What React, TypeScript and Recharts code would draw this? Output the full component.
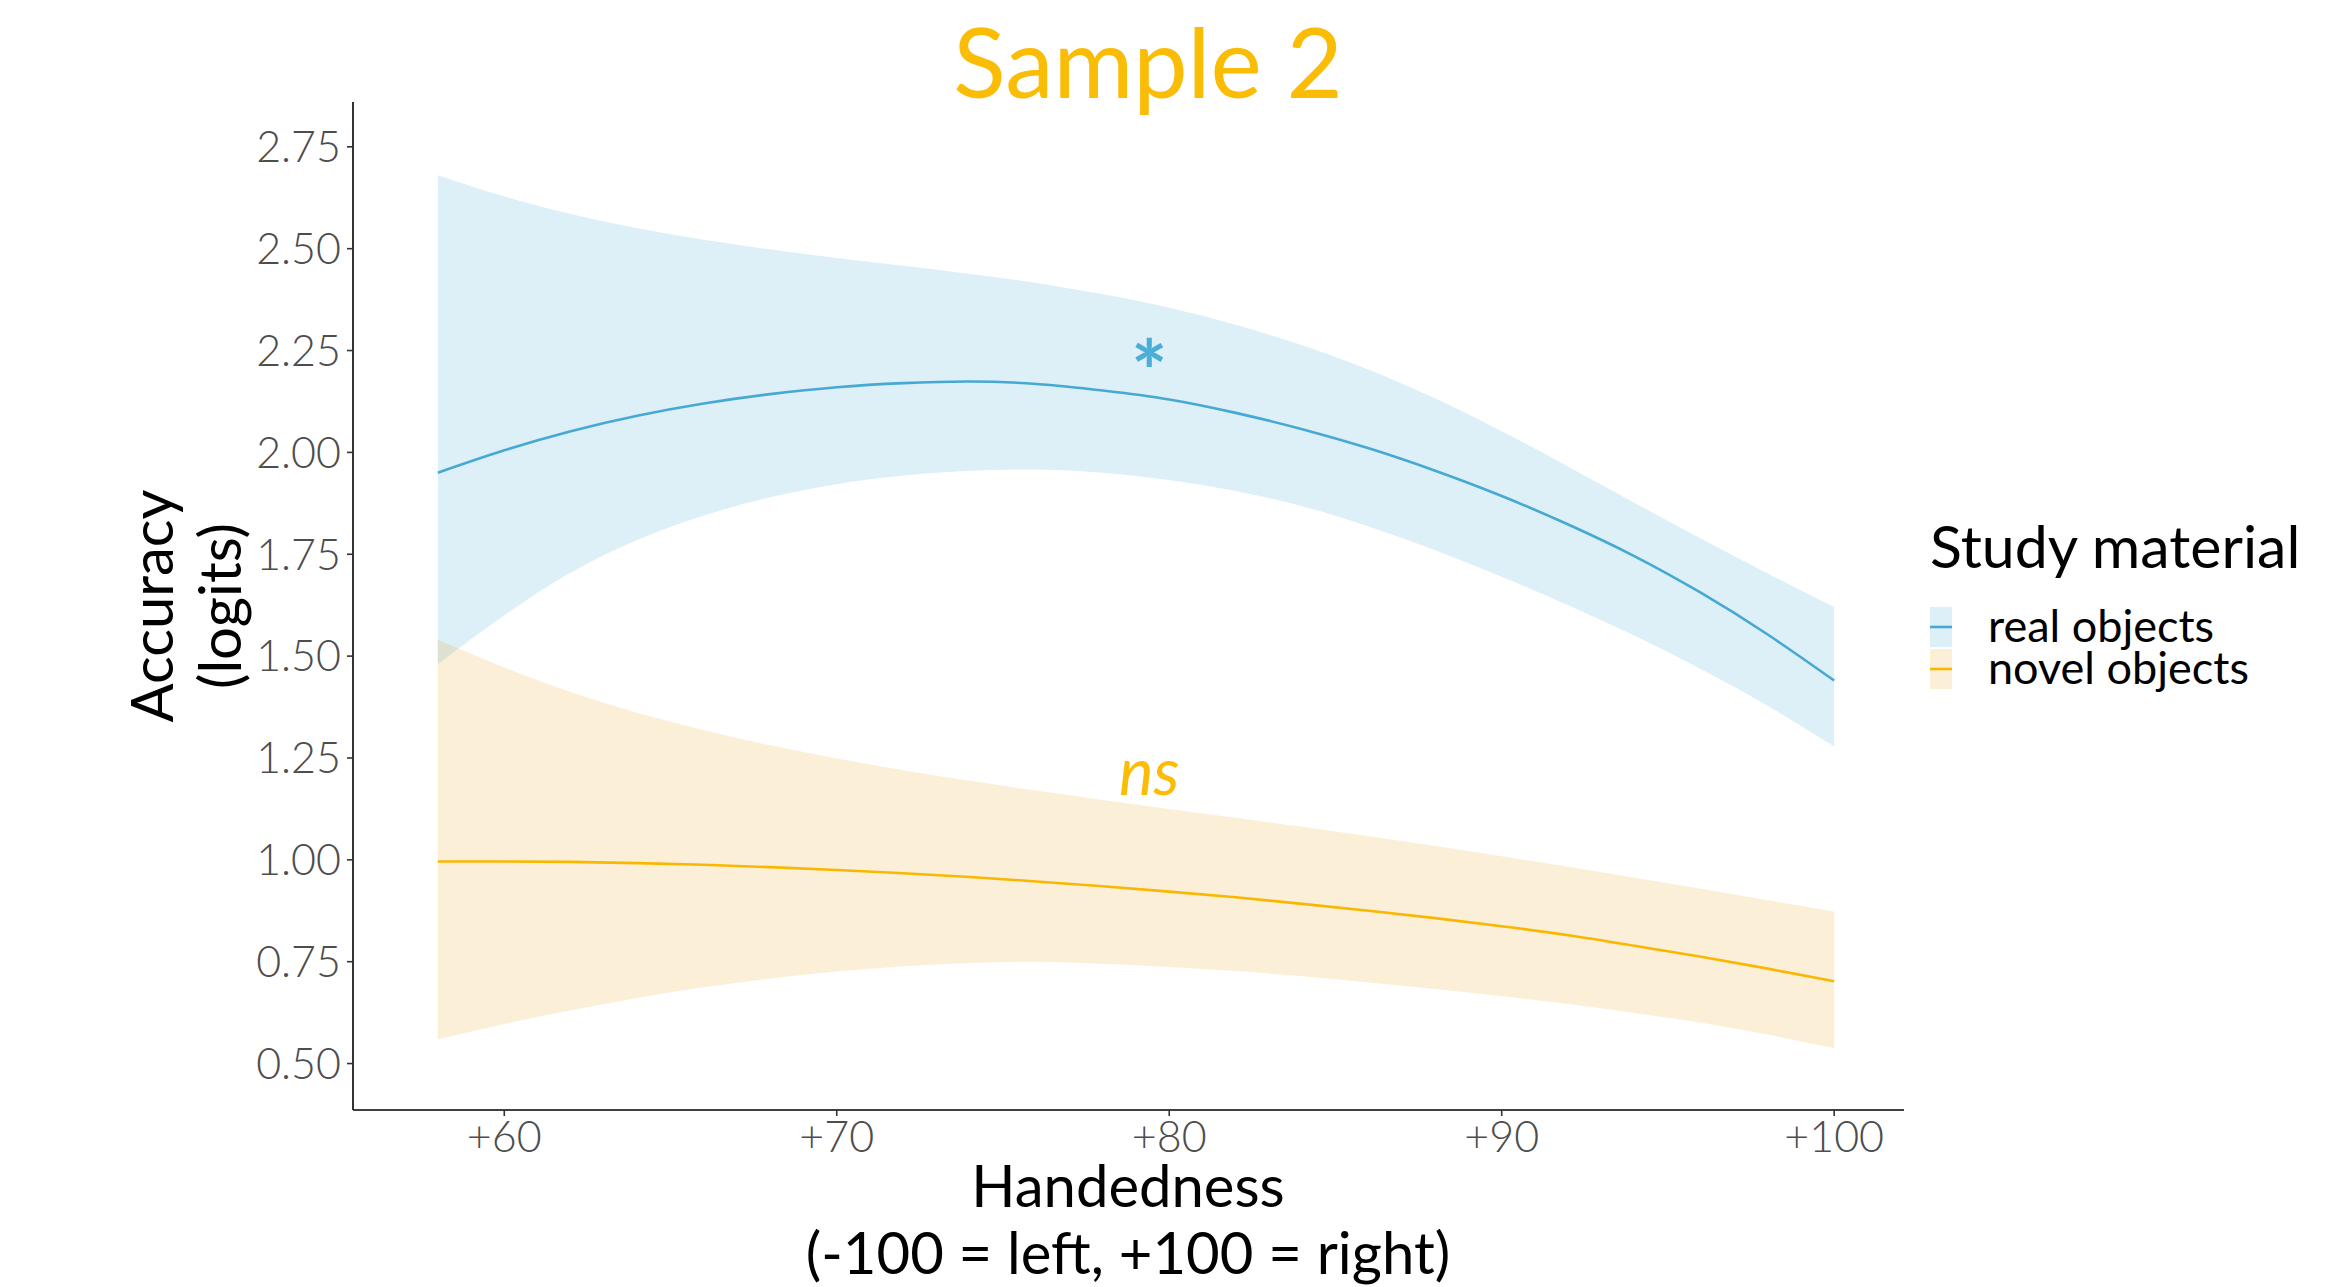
import React from 'react';
import { ComposedChart, Area, Line, XAxis, YAxis, Legend, ReferenceDot } from 'recharts';

// ---- data ----
const handedness = [58, 60, 62, 64, 66, 68, 70, 72, 74, 76, 78, 80, 82, 84, 86, 88, 90, 92, 94, 96, 98, 100];
const realFit = [1.95, 2.005, 2.052, 2.09, 2.12, 2.143, 2.16, 2.17, 2.174, 2.168, 2.152, 2.13, 2.097, 2.057, 2.01, 1.955, 1.893, 1.823, 1.745, 1.655, 1.553, 1.44];
const realLower = [1.48, 1.6, 1.705, 1.785, 1.845, 1.89, 1.922, 1.943, 1.955, 1.958, 1.95, 1.932, 1.905, 1.868, 1.818, 1.76, 1.695, 1.625, 1.55, 1.468, 1.378, 1.278];
const realUpper = [2.68, 2.628, 2.585, 2.55, 2.522, 2.498, 2.477, 2.458, 2.438, 2.416, 2.388, 2.355, 2.313, 2.263, 2.203, 2.132, 2.052, 1.965, 1.876, 1.788, 1.703, 1.62];
const novelFit = [0.996, 0.996, 0.995, 0.992, 0.988, 0.982, 0.975, 0.967, 0.958, 0.947, 0.935, 0.922, 0.908, 0.892, 0.875, 0.857, 0.837, 0.815, 0.789, 0.762, 0.733, 0.702];
const novelLower = [0.559, 0.597, 0.631, 0.661, 0.687, 0.709, 0.726, 0.739, 0.747, 0.75, 0.745, 0.737, 0.727, 0.714, 0.699, 0.683, 0.665, 0.646, 0.624, 0.6, 0.571, 0.538];
const novelUpper = [1.54, 1.472, 1.412, 1.361, 1.318, 1.281, 1.249, 1.22, 1.194, 1.17, 1.147, 1.125, 1.103, 1.081, 1.058, 1.034, 1.009, 0.983, 0.956, 0.929, 0.901, 0.873];

const xTicks = [60, 70, 80, 90, 100];
const yTicks = [0.5, 0.75, 1.0, 1.25, 1.5, 1.75, 2.0, 2.25, 2.5, 2.75];
const seriesNames = ['real objects', 'novel objects'];

// annotations
const annoX = [79.4, 79.4];
const annoY = [2.238, 1.2];
const annoText = ['*', 'ns'];

// ---- styles ----
const FONT = 'Lato, "Open Sans", "DejaVu Sans", sans-serif';
const BLUE = '#46A9D3';
const BLUE_FILL = '#4BACD6';
const ORANGE = '#F9B700';
const ORANGE_FILL = '#E8A317';
const TITLE_COL = '#FABC05';
const W = 2343;
const H = 1287;

const data = handedness.map((h, i) => ({
  h,
  realFit: realFit[i],
  realBand: [realLower[i], realUpper[i]],
  novelFit: novelFit[i],
  novelBand: [novelLower[i], novelUpper[i]],
}));

const LegendBox = () => {
  const keyColors = [
    { fill: BLUE_FILL, line: BLUE, op: 0.19 },
    { fill: ORANGE_FILL, line: ORANGE, op: 0.17 },
  ];
  return (
    <svg width={443} height={220} style={{ display: 'block' }}>
      <text x={30} y={68} fontFamily={FONT} fontSize={59} fill="#000">Study material</text>
      {seriesNames.map((name, i) => {
        const top = 107 + i * 42;
        return (
          <g key={name}>
            <rect x={30} y={top} width={22} height={40} fill={keyColors[i].fill} fillOpacity={keyColors[i].op} />
            <line x1={30} x2={52} y1={top + 20} y2={top + 20} stroke={keyColors[i].line} strokeWidth={2.6} />
            <text x={88} y={top + 35} fontFamily={FONT} fontSize={45} fill="#000">{name}</text>
          </g>
        );
      })}
    </svg>
  );
};

const AnnoLabel = (props: any) => {
  const { viewBox, value, fill, italic, bold, size, dy } = props;
  const cx = viewBox.x + viewBox.width / 2;
  const cy = viewBox.y + viewBox.height / 2;
  return (
    <text
      x={cx}
      y={cy}
      dy={dy}
      textAnchor="middle"
      fontFamily={FONT}
      fontSize={size}
      fontStyle={italic ? 'italic' : 'normal'}
      fontWeight={bold ? 700 : 400}
      fill={fill}
    >
      {value}
    </text>
  );
};

const tickStyle = { fontSize: 43, fill: '#4D4D4D', fontFamily: FONT, fontWeight: 300 };

export default function App() {
  return (
    <div style={{ position: 'absolute', left: 0, top: 0, width: W, height: H, background: '#fff' }}>
      <ComposedChart
        width={W}
        height={H}
        data={data}
        margin={{ top: 102, right: 439, bottom: 0, left: 0 }}
      >
        <XAxis
          dataKey="h"
          type="number"
          domain={[55.45, 102.1]}
          allowDataOverflow
          ticks={xTicks}
          tickFormatter={(v: number) => `+${v}`}
          height={177}
          axisLine={{ stroke: '#000', strokeWidth: 1.6 }}
          tickLine={{ stroke: '#333', strokeWidth: 1.6 }}
          tickSize={6}
          tickMargin={5}
          tick={tickStyle}
        />
        <YAxis
          type="number"
          domain={[0.386, 2.86]}
          allowDataOverflow
          ticks={yTicks}
          tickFormatter={(v: number) => v.toFixed(2)}
          width={353}
          axisLine={{ stroke: '#000', strokeWidth: 1.6 }}
          tickLine={{ stroke: '#333', strokeWidth: 1.6 }}
          tickSize={6}
          tickMargin={6}
          tick={tickStyle}
        />
        <Area
          dataKey="realBand"
          type="natural"
          stroke="none"
          fill={BLUE_FILL}
          fillOpacity={0.19}
          isAnimationActive={false}
          activeDot={false}
          legendType="none"
        />
        <Area
          dataKey="novelBand"
          type="natural"
          stroke="none"
          fill={ORANGE_FILL}
          fillOpacity={0.17}
          isAnimationActive={false}
          activeDot={false}
          legendType="none"
        />
        <Line
          dataKey="realFit"
          type="natural"
          stroke={BLUE}
          strokeWidth={2.6}
          dot={false}
          activeDot={false}
          isAnimationActive={false}
        />
        <Line
          dataKey="novelFit"
          type="natural"
          stroke={ORANGE}
          strokeWidth={2.6}
          dot={false}
          activeDot={false}
          isAnimationActive={false}
        />
        <ReferenceDot
          x={annoX[0]}
          y={annoY[0]}
          r={1}
          fill="none"
          stroke="none"
          label={<AnnoLabel value={annoText[0]} fill="#4BAED6" bold size={86} dy="0.55em" />}
        />
        <ReferenceDot
          x={annoX[1]}
          y={annoY[1]}
          r={1}
          fill="none"
          stroke="none"
          label={<AnnoLabel value={annoText[1]} fill={TITLE_COL} italic size={65} dy="0.25em" />}
        />
        <Legend
          layout="vertical"
          align="center"
          verticalAlign="middle"
          content={() => <LegendBox />}
          wrapperStyle={{ left: 1900, top: 500, width: 443, height: 220 }}
        />
      </ComposedChart>
      <svg
        width={W}
        height={H}
        style={{ position: 'absolute', left: 0, top: 0, pointerEvents: 'none' }}
      >
        <text x={1148} y={98} textAnchor="middle" fontFamily={FONT} fontSize={97} fill={TITLE_COL}>
          Sample 2
        </text>
        <text x={1128} y={1207} textAnchor="middle" fontFamily={FONT} fontSize={58} fill="#000">
          Handedness
        </text>
        <text x={1128} y={1274} textAnchor="middle" fontFamily={FONT} fontSize={58} fill="#000">
          (-100 = left, +100 = right)
        </text>
        <text
          x={0}
          y={0}
          transform="translate(173 606) rotate(-90)"
          textAnchor="middle"
          fontFamily={FONT}
          fontSize={58}
          fill="#000"
        >
          Accuracy
        </text>
        <text
          x={0}
          y={0}
          transform="translate(241 606) rotate(-90)"
          textAnchor="middle"
          fontFamily={FONT}
          fontSize={58}
          fill="#000"
        >
          (logits)
        </text>
      </svg>
    </div>
  );
}
